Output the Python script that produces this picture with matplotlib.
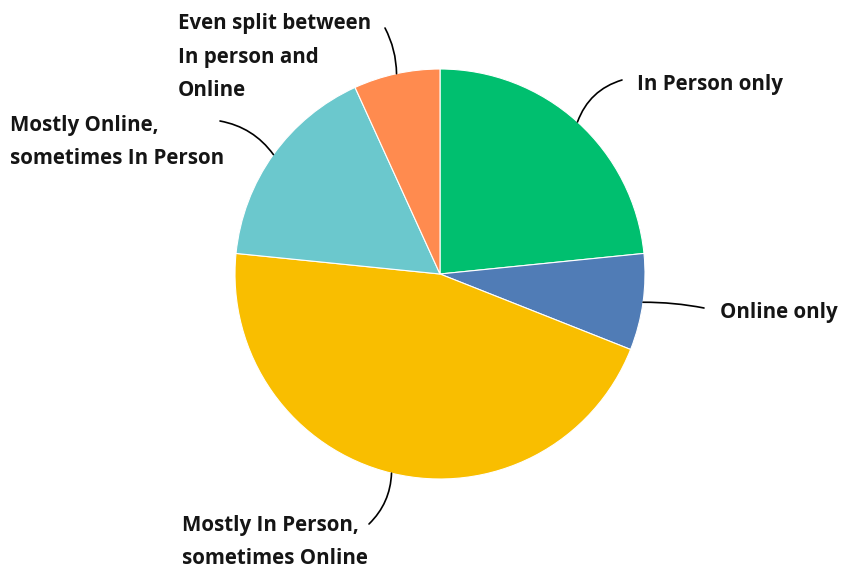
import numpy as np
import matplotlib

matplotlib.use("Agg")
import matplotlib.pyplot as plt

labels = [
    "In Person only",
    "Online only",
    "Mostly In Person,\nsometimes Online",
    "Mostly Online,\nsometimes In Person",
    "Even split between\nIn person and\nOnline",
]
shares = [23.4, 7.6, 45.6, 16.6, 6.8]
colors = ["#00BF6F", "#507CB6", "#F9BE00", "#6BC8CD", "#FF8B4F"]

# label layout (pixel coords, y from top): line end, text pos, curvature
line_ends = [(622, 80), (704, 308), (369, 524), (220, 121), (385, 28)]
text_pos = [(637, 84), (720, 312), (182, 542), (10, 142), (178, 57)]
rads = [0.25, 0.05, 0.2, -0.2, -0.12]

W, H = 848, 569
CX, CY, R = 440, 274, 205

fig = plt.figure(figsize=(W / 100, H / 100), dpi=100)
ax = fig.add_axes([0, 0, 1, 1])

wedges, _ = ax.pie(shares, colors=colors, startangle=90, counterclock=False,
                   center=(CX, H - CY), radius=R, frame=True,
                   wedgeprops=dict(edgecolor="white", linewidth=0.8))
ax.set_xlim(0, W)
ax.set_ylim(0, H)
ax.set_aspect("equal")
ax.axis("off")

font = dict(family="Open Sans", weight="bold", fontsize=14.8, color="#151515")
for w, lab, end, tp, rad in zip(wedges, labels, line_ends, text_pos, rads):
    mid = np.deg2rad((w.theta1 + w.theta2) / 2)
    anchor = (CX + R * np.cos(mid), H - CY + R * np.sin(mid))
    ax.annotate("", xy=anchor, xytext=(end[0], H - end[1]),
                arrowprops=dict(arrowstyle="-", color="black", lw=1.2,
                                shrinkA=0, shrinkB=0,
                                connectionstyle=f"arc3,rad={rad}"))
    ax.text(tp[0], H - tp[1], lab, ha="left", va="center",
            linespacing=1.78, **font)

fig.savefig("out.png", dpi=100)
